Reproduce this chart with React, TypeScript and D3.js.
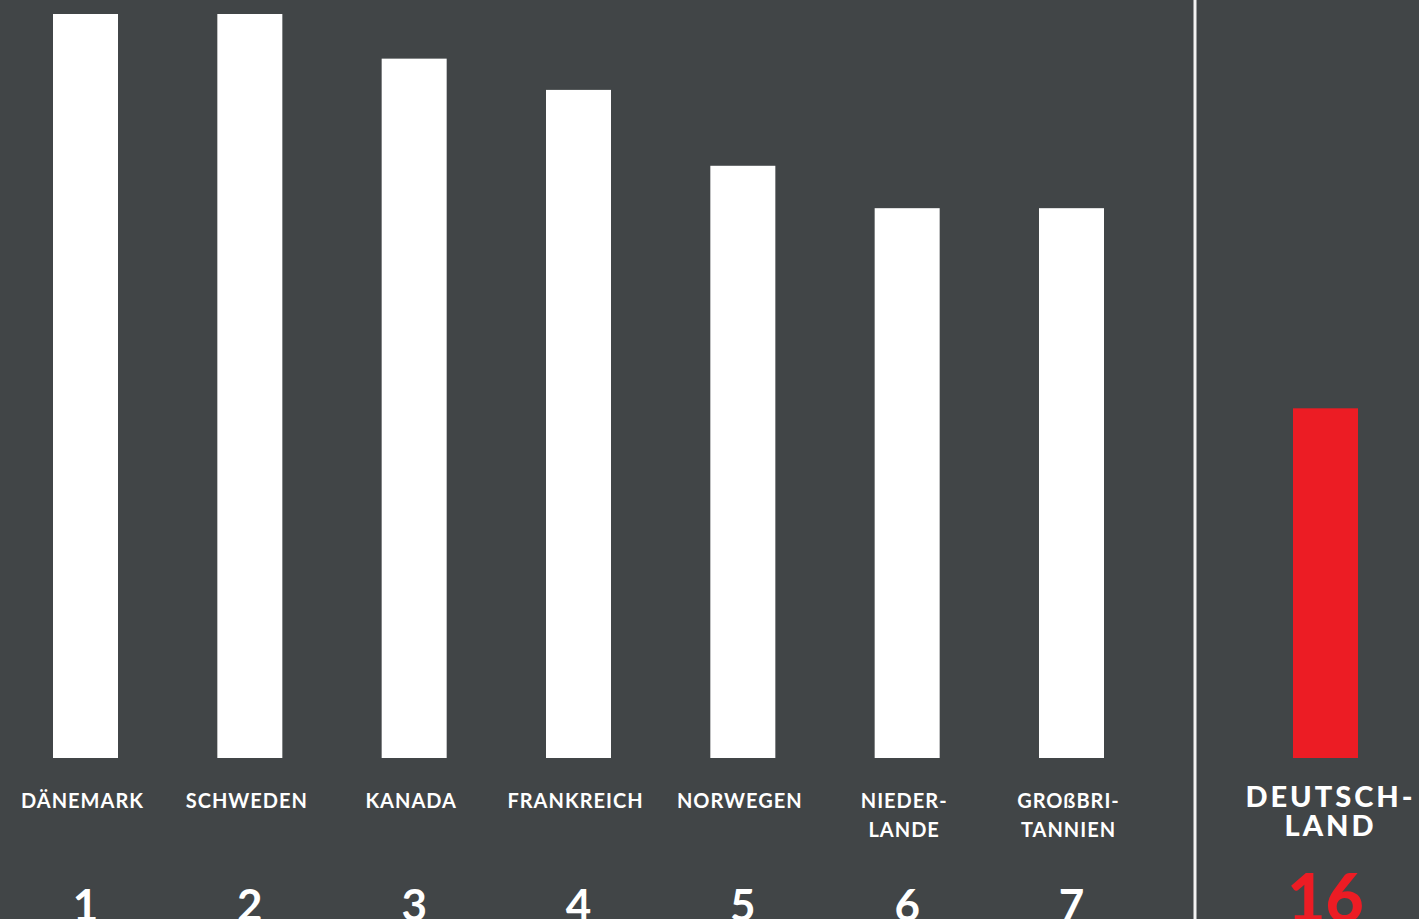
import React from "react";
import * as d3 from "d3";

const countries = ["DÄNEMARK", "SCHWEDEN", "KANADA", "FRANKREICH", "NORWEGEN", "NIEDER-|LANDE", "GROßBRI-|TANNIEN"];
const values = [100, 100, 94, 89.8, 79.6, 73.9, 73.9];
const ranks = ["1", "2", "3", "4", "5", "6", "7"];
const focusCountry = "DEUTSCH-|LAND";
const focusValue = 47;
const focusRank = "16";

const W = 1419;
const H = 919;
const BG = "#414547";
const RED = "#ec1c24";
const FONT = "Lato, 'Open Sans', sans-serif";

export default function App() {
  const y = d3.scaleLinear().domain([0, 100]).range([758, 14]);
  const x = d3.scaleBand<string>().domain(countries).range([53, 1104]).paddingInner(0.6044).paddingOuter(0);
  const xf = d3.scaleBand<string>().domain([focusCountry]).range([1293, 1358]).padding(0);
  const bw = x.bandwidth();
  return (
    <div style={{ position: "fixed", left: 0, top: 0, width: W, height: H, overflow: "hidden" }}>
      <svg width={W} height={H} style={{ display: "block" }}>
        <rect x={0} y={0} width={W} height={H} fill={BG} />
        {countries.map((c, i) => {
          const cx = (x(c) as number) + bw / 2;
          const lines = c.split("|");
          return (
            <g key={c}>
              <rect x={x(c)} y={y(values[i])} width={bw} height={y(0) - y(values[i])} fill="#ffffff" />
              {lines.map((l, j) => (
                <text key={j} x={cx - 3} y={808 + j * 29} textAnchor="middle" fill="#ffffff" fontFamily={FONT} fontWeight={700} fontSize={20} letterSpacing={1}>
                  {l}
                </text>
              ))}
              <text x={cx} y={921} textAnchor="middle" fill="#ffffff" fontFamily={FONT} fontWeight={700} fontSize={44}>
                {ranks[i]}
              </text>
            </g>
          );
        })}
        <line x1={1195} x2={1195} y1={0} y2={H} stroke="#f2f2f2" strokeWidth={3} />
        {(() => {
          const fx = xf(focusCountry) as number;
          const fw = xf.bandwidth();
          const cx = fx + fw / 2;
          return (
            <g>
              <rect x={fx} y={y(focusValue)} width={fw} height={y(0) - y(focusValue)} fill={RED} />
              {focusCountry.split("|").map((l, j) => (
                <text key={j} x={cx + 5} y={807 + j * 29} textAnchor="middle" fill="#ffffff" fontFamily={FONT} fontWeight={900} fontSize={29} letterSpacing={3}>
                  {l}
                </text>
              ))}
              <text x={cx} y={922} textAnchor="middle" fill={RED} fontFamily={FONT} fontWeight={900} fontSize={66}>
                {focusRank}
              </text>
            </g>
          );
        })()}
      </svg>
    </div>
  );
}
